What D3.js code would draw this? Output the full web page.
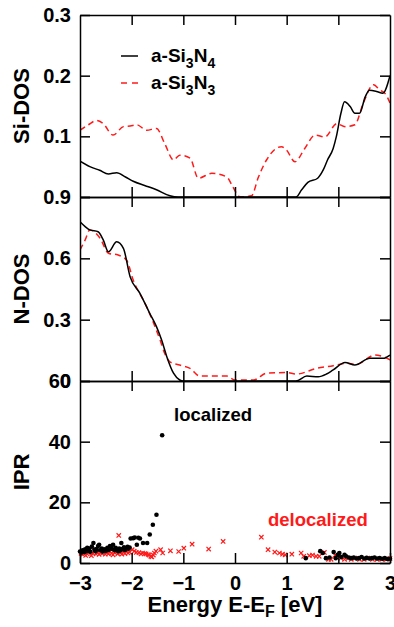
<!DOCTYPE html>
<html>
<head>
<meta charset="utf-8">
<script src="https://cdn.jsdelivr.net/npm/d3@7"></script>
<style>
  html, body { margin: 0; padding: 0; background: #fff; }
  svg { display: block; }
  .axis text { font-family: "Liberation Sans", Arial, Helvetica, sans-serif; font-weight: bold; font-size: 20px; fill: #000; }
  .axis path, .axis line { stroke: #000; stroke-width: 1.5px; }
  .lbl { font-family: "Liberation Sans", Arial, Helvetica, sans-serif; font-weight: bold; }
</style>
</head>
<body>
<svg id="chart" width="394" height="627"></svg>
<script>
// Energy axis (E - E_F, eV)
const energyTicks = [-3, -2, -1, 0, 1, 2, 3];
const innerEnergyTicks = [-2, -1, 0, 1, 2];

// Si-projected density of states: [energy, DOS]
const siDosSi3N4 = [[-3,0.059],[-2.81,0.050],[-2.62,0.044],[-2.45,0.038],[-2.29,0.040],[-2.12,0.033],[-1.97,0.026],[-1.75,0.019],[-1.52,0.012],[-1.26,0.002],[-1.1,0],[1.18,0],[1.29,0.012],[1.41,0.024],[1.60,0.031],[1.71,0.045],[1.79,0.061],[1.90,0.080],[1.96,0.099],[2.05,0.138],[2.12,0.157],[2.23,0.149],[2.32,0.138],[2.41,0.138],[2.52,0.165],[2.60,0.176],[2.74,0.174],[2.86,0.171],[3.0,0.2]];
const siDosSi3N3 = [[-3,0.110],[-2.84,0.119],[-2.68,0.126],[-2.55,0.121],[-2.36,0.102],[-2.16,0.116],[-2.03,0.117],[-1.90,0.119],[-1.71,0.110],[-1.52,0.113],[-1.36,0.088],[-1.19,0.061],[-1.07,0.069],[-0.87,0.064],[-0.71,0.031],[-0.45,0.039],[-0.16,0.033],[-0.05,0.018],[0.03,0.006],[0.10,0],[0.32,0.002],[0.45,0.032],[0.61,0.061],[0.90,0.083],[1.0,0.077],[1.16,0.058],[1.35,0.080],[1.55,0.102],[1.74,0.099],[1.97,0.121],[2.13,0.116],[2.32,0.119],[2.48,0.154],[2.68,0.185],[2.81,0.176],[2.91,0.170],[3.0,0.155]];

// N-projected density of states: [energy, DOS]
const nDosSi3N4 = [[-3,0.779],[-2.90,0.755],[-2.81,0.739],[-2.65,0.730],[-2.55,0.690],[-2.45,0.632],[-2.29,0.681],[-2.16,0.649],[-2.03,0.510],[-1.84,0.429],[-1.65,0.331],[-1.52,0.266],[-1.42,0.200],[-1.32,0.119],[-1.19,0.038],[-1.07,0.005],[-1.0,0],[1.18,0],[1.39,0.024],[1.61,0.021],[1.77,0.034],[1.90,0.054],[2.13,0.090],[2.32,0.078],[2.61,0.111],[2.87,0.111],[3.0,0.127]];
const nDosSi3N3 = [[-3,0.641],[-2.90,0.690],[-2.81,0.739],[-2.61,0.698],[-2.45,0.625],[-2.26,0.616],[-2.10,0.592],[-1.97,0.494],[-1.71,0.363],[-1.45,0.200],[-1.36,0.135],[-1.26,0.094],[-1.07,0.078],[-0.87,0.062],[-0.68,0.024],[-0.16,0.024],[0,0.005],[0.36,0.005],[0.61,0.038],[1.0,0.041],[1.19,0.034],[1.58,0.062],[1.90,0.075],[2.16,0.087],[2.35,0.082],[2.71,0.127],[2.87,0.119],[3.0,0.103]];

// Inverse participation ratio of individual states: [energy, IPR]
const iprSi3N4 = [[-3.0,3.8],[-2.97,3.5],[-2.95,4.2],[-2.92,3.6],[-2.90,4.5],[-2.88,3.9],[-2.86,5.0],[-2.84,4.0],[-2.82,4.8],[-2.80,3.7],[-2.77,5.4],[-2.74,6.6],[-2.72,4.4],[-2.70,3.9],[-2.68,4.6],[-2.65,5.6],[-2.63,6.0],[-2.61,4.2],[-2.58,4.8],[-2.56,3.8],[-2.53,4.5],[-2.50,4.0],[-2.47,5.0],[-2.45,4.3],[-2.42,5.6],[-2.40,5.4],[-2.38,4.6],[-2.36,6.0],[-2.33,4.2],[-2.31,5.0],[-2.28,4.4],[-2.26,3.9],[-2.24,4.8],[-2.22,4.1],[-2.20,6.6],[-2.18,4.6],[-2.15,5.2],[-2.13,4.3],[-2.11,4.9],[-2.08,5.3],[-2.06,4.7],[-2.04,5.1],[-2.02,8.1],[-1.97,8.2],[-1.94,8.4],[-1.90,6.0],[-1.87,8.3],[-1.84,8.1],[-1.78,6.6],[-1.70,6.6],[-1.65,9.4],[-1.59,12.6],[-1.52,15.9],[-1.41,42.1],[1.37,1.6],[1.65,3.9],[1.70,3.3],[1.76,1.6],[1.83,1.8],[1.91,3.6],[1.95,1.6],[1.99,2.7],[2.02,3.3],[2.06,2.0],[2.12,2.7],[2.15,2.2],[2.20,1.8],[2.25,1.6],[2.30,1.8],[2.35,1.5],[2.40,1.6],[2.45,2.0],[2.50,1.5],[2.55,1.7],[2.60,1.5],[2.65,1.6],[2.70,1.8],[2.75,1.5],[2.80,1.6],[2.85,1.4],[2.90,1.6],[2.95,1.3],[3.0,1.4]];
const iprSi3N3 = [[-2.98,3.2],[-2.95,2.8],[-2.92,3.5],[-2.89,2.5],[-2.86,3.0],[-2.83,3.6],[-2.78,2.4],[-2.75,3.2],[-2.72,4.0],[-2.69,3.0],[-2.66,3.4],[-2.63,2.8],[-2.60,3.6],[-2.57,3.1],[-2.54,4.2],[-2.51,2.9],[-2.48,3.5],[-2.45,3.0],[-2.42,3.8],[-2.39,3.2],[-2.36,2.7],[-2.33,3.4],[-2.30,4.1],[-2.27,3.0],[-2.25,9.1],[-2.22,3.3],[-2.19,2.9],[-2.16,3.6],[-2.13,3.1],[-2.10,4.0],[-2.07,3.3],[-2.04,3.6],[-1.99,4.4],[-1.95,3.9],[-1.91,3.5],[-1.86,3.4],[-1.82,3.0],[-1.79,3.3],[-1.75,3.1],[-1.72,3.0],[-1.68,2.8],[-1.66,2.6],[-1.63,2.2],[-1.61,2.0],[-1.58,2.6],[-1.56,3.3],[-1.53,3.9],[-1.44,4.4],[-1.40,3.3],[-1.25,4.0],[-1.09,3.8],[-0.99,4.9],[-0.83,6.2],[-0.51,4.6],[-0.23,7.1],[0.51,8.5],[0.64,4.4],[0.77,3.6],[0.86,3.3],[0.92,2.9],[0.97,2.7],[1.10,2.9],[1.28,3.3],[1.33,2.2],[1.44,2.4],[1.50,2.6],[1.57,2.2],[1.63,2.2],[1.73,3.5],[1.81,1.2],[1.86,1.2],[1.94,2.6],[2.05,1.6],[2.12,1.2],[2.19,1.6],[2.25,1.2],[2.32,1.6],[2.41,1.2],[2.50,1.2],[2.57,1.6],[2.66,1.2],[2.75,1.2],[2.84,1.2],[2.93,1.2],[3.0,1.5]];

// Panel axis settings
const siTicks = [0, 0.1, 0.2, 0.3];
const nTicks = [0, 0.3, 0.6, 0.9];
const iprTicks = [0, 20, 40, 60];

const RED = "#ff1a1a";
const svg = d3.select("#chart");
const x = d3.scaleLinear().domain([-3, 3]).range([80, 390]);

const panels = [
  { id: "si", title: "Si-DOS", y: d3.scaleLinear().domain([0, 0.3]).range([197, 15]), ticks: siTicks,
    fmt: d => d === 0 ? "" : d.toFixed(1) },
  { id: "n", title: "N-DOS", y: d3.scaleLinear().domain([0, 0.9]).range([381, 197]), ticks: nTicks,
    fmt: d => d === 0 ? "0" : d.toFixed(1) },
  { id: "ipr", title: "IPR", y: d3.scaleLinear().domain([0, 60]).range([563, 381]), ticks: iprTicks,
    fmt: d => String(d) }
];

// clip each panel's curves to its frame
const defs = svg.append("defs");
panels.forEach(p => {
  const [y0, y1] = p.y.range();
  defs.append("clipPath").attr("id", "clip-" + p.id)
    .append("rect").attr("x", x.range()[0]).attr("y", y1)
    .attr("width", x.range()[1] - x.range()[0]).attr("height", y0 - y1);
});

function drawCurve(panel, data, color, dash) {
  const line = d3.line().x(d => x(d[0])).y(d => panel.y(d[1])).curve(d3.curveMonotoneX);
  svg.append("path")
    .attr("clip-path", `url(#clip-${panel.id})`)
    .attr("d", line(data))
    .attr("fill", "none")
    .attr("stroke", color)
    .attr("stroke-width", 1.5)
    .attr("stroke-dasharray", dash || null);
}

drawCurve(panels[0], siDosSi3N3, RED, "6,4");
drawCurve(panels[0], siDosSi3N4, "#000");
drawCurve(panels[1], nDosSi3N3, RED, "6,4");
drawCurve(panels[1], nDosSi3N4, "#000");

// IPR scatter: crosses for a-Si3N3, dots for a-Si3N4
const ipr = panels[2];
const cross = d3.symbol().type(d3.symbolX).size(14);
svg.append("g").selectAll("path").data(iprSi3N3).join("path")
  .attr("transform", d => `translate(${x(d[0])},${ipr.y(d[1])})`)
  .attr("d", cross)
  .attr("fill", "none")
  .attr("stroke", RED)
  .attr("stroke-width", 1.2);
svg.append("g").selectAll("circle").data(iprSi3N4).join("circle")
  .attr("cx", d => x(d[0]))
  .attr("cy", d => ipr.y(d[1]))
  .attr("r", 2.3)
  .attr("fill", "#000");

// frames and inward ticks
panels.forEach((p, i) => {
  const [yBottom, yTop] = p.y.range();
  const last = i === panels.length - 1;
  const bottom = d3.axisBottom(x).tickSizeInner(-10).tickSizeOuter(0).tickPadding(12.5);
  if (last) bottom.tickValues(energyTicks).tickFormat(d3.format("d"));
  else bottom.tickValues(innerEnergyTicks).tickFormat("");
  svg.append("g").attr("class", "axis").attr("transform", `translate(0,${yBottom})`).call(bottom)
    .call(g => g.attr("font-size", null).attr("font-family", null));

  svg.append("g").attr("class", "axis").attr("transform", `translate(0,${yTop})`)
    .call(d3.axisTop(x).tickValues(innerEnergyTicks).tickSizeInner(-10).tickSizeOuter(0).tickFormat(""));

  svg.append("g").attr("class", "axis").attr("transform", `translate(${x.range()[0]},0)`)
    .call(d3.axisLeft(p.y).tickValues(p.ticks).tickSizeInner(-10).tickSizeOuter(0).tickPadding(9).tickFormat(p.fmt))
    .call(g => g.attr("font-size", null).attr("font-family", null));

  svg.append("g").attr("class", "axis").attr("transform", `translate(${x.range()[1]},0)`)
    .call(d3.axisRight(p.y).tickValues(p.ticks).tickSizeInner(-10).tickSizeOuter(0).tickFormat(""));

  // vertical panel title
  svg.append("text").attr("class", "lbl")
    .attr("transform", `translate(28.5,${(yBottom + yTop) / 2}) rotate(-90)`)
    .attr("text-anchor", "middle")
    .attr("font-size", 22)
    .text(p.title);
});

// legend
const legend = [
  { sub: ["3", "4"], color: "#000", dash: null, y: 56 },
  { sub: ["3", "3"], color: RED, dash: "6,5", y: 83 }
];
legend.forEach(l => {
  svg.append("line").attr("x1", 121).attr("x2", 138).attr("y1", l.y).attr("y2", l.y)
    .attr("stroke", l.color).attr("stroke-width", 1.5).attr("stroke-dasharray", l.dash);
  const t = svg.append("text").attr("class", "lbl").attr("x", 151).attr("y", l.y + 5.5).attr("font-size", 19);
  t.append("tspan").text("a-Si");
  t.append("tspan").attr("font-size", 14).attr("dy", 6).text(l.sub[0]);
  t.append("tspan").attr("dy", -6).text("N");
  t.append("tspan").attr("font-size", 14).attr("dy", 6).text(l.sub[1]);
});

// annotations in the IPR panel
svg.append("text").attr("class", "lbl").attr("x", 174).attr("y", 420.5)
  .attr("font-size", 18.5).attr("fill", "#000").text("localized");
svg.append("text").attr("class", "lbl").attr("x", 268).attr("y", 525.5)
  .attr("font-size", 18.5).attr("fill", RED).text("delocalized");

// energy axis title
const xt = svg.append("text").attr("class", "lbl").attr("x", x(0)).attr("y", 612)
  .attr("text-anchor", "middle").attr("font-size", 22);
xt.append("tspan").text("Energy E-E");
xt.append("tspan").attr("font-size", 16).attr("dy", 5).text("F");
xt.append("tspan").attr("dy", -5).text(" [eV]");
</script>
</body>
</html>
